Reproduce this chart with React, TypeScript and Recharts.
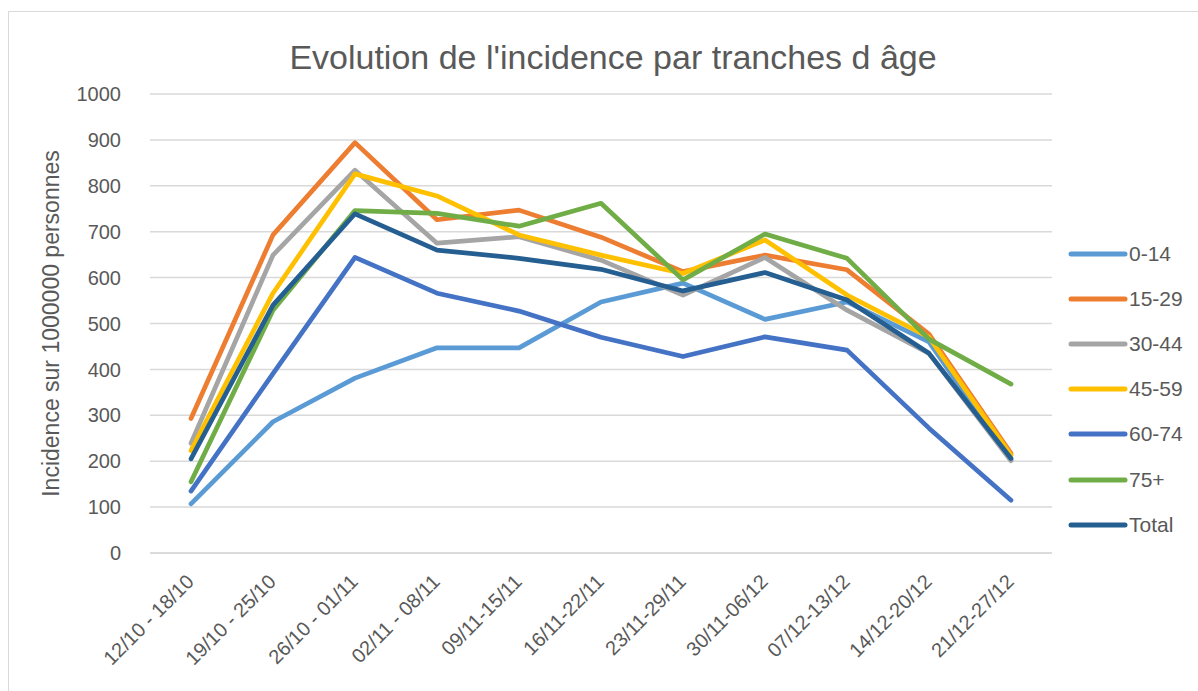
import React from 'react';
import { LineChart, Line, XAxis, YAxis, CartesianGrid } from 'recharts';

const categories = [
  '12/10 - 18/10', '19/10 - 25/10', '26/10 - 01/11', '02/11 - 08/11', '09/11-15/11',
  '16/11-22/11', '23/11-29/11', '30/11-06/12', '07/12-13/12', '14/12-20/12', '21/12-27/12',
];

const s0_14 = [107, 286, 381, 447, 447, 547, 588, 509, 547, 460, 203];
const s15_29 = [293, 693, 894, 726, 747, 688, 613, 649, 617, 477, 217];
const s30_44 = [239, 649, 834, 675, 689, 638, 562, 644, 529, 435, 201];
const s45_59 = [223, 566, 826, 778, 693, 649, 609, 682, 562, 470, 213];
const s60_74 = [135, 391, 644, 566, 527, 470, 428, 471, 442, 272, 115];
const s75 = [155, 529, 746, 740, 712, 762, 595, 695, 642, 466, 368];
const sTotal = [205, 540, 739, 660, 642, 618, 571, 611, 551, 435, 206];

const yTicks = [0, 100, 200, 300, 400, 500, 600, 700, 800, 900, 1000];

const seriesList = [
  { key: '0-14', values: s0_14, color: '#5B9BD5' },
  { key: '15-29', values: s15_29, color: '#ED7D31' },
  { key: '30-44', values: s30_44, color: '#A5A5A5' },
  { key: '45-59', values: s45_59, color: '#FFC000' },
  { key: '60-74', values: s60_74, color: '#4472C4' },
  { key: '75+', values: s75, color: '#70AD47' },
  { key: 'Total', values: sTotal, color: '#255E91' },
];

const data = categories.map((c, i) => {
  const row: Record<string, string | number> = { cat: c };
  seriesList.forEach((s) => { row[s.key] = s.values[i]; });
  return row;
});

const FONT = '"Liberation Sans", Arial, sans-serif';
const TEXT = '#595959';

const XTick = (props: any) => {
  const { x, y, payload } = props;
  return (
    <g transform={`translate(${x + 4},${y + 22})`}>
      <text textAnchor="end" transform="rotate(-45)" fill={TEXT} fontSize={20} fontFamily={FONT}>
        {payload.value}
      </text>
    </g>
  );
};

const YLabel = (props: any) => {
  const { viewBox } = props;
  const cy = viewBox.y + viewBox.height / 2;
  const cx = 59;
  return (
    <text x={cx} y={cy} transform={`rotate(-90, ${cx}, ${cy})`} textAnchor="middle" fill={TEXT} fontSize={23} fontFamily={FONT}>
      Incidence sur 1000000 personnes
    </text>
  );
};

export default function App() {
  return (
    <div style={{ position: 'absolute', left: 0, top: 0, width: 1198, height: 691, overflow: 'hidden', background: '#fff', fontFamily: FONT }}>
      <div style={{ position: 'absolute', left: 8, top: 11, width: 1400, height: 900, border: '1px solid #D9D9D9' }} />
      <div style={{ position: 'absolute', left: 0, width: 1226, top: 37, textAlign: 'center', fontSize: 34, color: TEXT, lineHeight: '40px' }}>
        Evolution de l'incidence par tranches d âge
      </div>
      <div style={{ position: 'absolute', left: 0, top: 0 }}>
        <LineChart width={1198} height={691} data={data} margin={{ top: 94, right: 146, bottom: 108, left: 90 }}>
          <CartesianGrid vertical={false} stroke="#D9D9D9" strokeWidth={1.5} />
          <XAxis
            dataKey="cat"
            height={30}
            padding={{ left: 41, right: 41 }}
            axisLine={{ stroke: '#D9D9D9', strokeWidth: 1.5 }}
            tickLine={false}
            interval={0}
            tick={<XTick />}
          />
          <YAxis
            width={60}
            domain={[0, 1000]}
            ticks={yTicks}
            axisLine={false}
            tickLine={false}
            tickMargin={23}
            tick={{ fill: TEXT, fontSize: 20, fontFamily: FONT }}
            label={<YLabel />}
          />
          {seriesList.map((s) => (
            <Line
              key={s.key}
              dataKey={s.key}
              stroke={s.color}
              strokeWidth={4.7}
              dot={false}
              activeDot={false}
              strokeLinecap="round"
              strokeLinejoin="round"
              isAnimationActive={false}
            />
          ))}
        </LineChart>
      </div>
      <div style={{ position: 'absolute', left: 1068, top: 231 }}>
        {seriesList.map((s) => (
          <div key={s.key} style={{ display: 'flex', alignItems: 'center', height: 45.2 }}>
            <svg width={60} height={10} style={{ display: 'block' }}>
              <line x1={3} y1={5} x2={57} y2={5} stroke={s.color} strokeWidth={5} strokeLinecap="round" />
            </svg>
            <span style={{ fontSize: 21, color: TEXT, marginLeft: 1 }}>{s.key}</span>
          </div>
        ))}
      </div>
    </div>
  );
}
